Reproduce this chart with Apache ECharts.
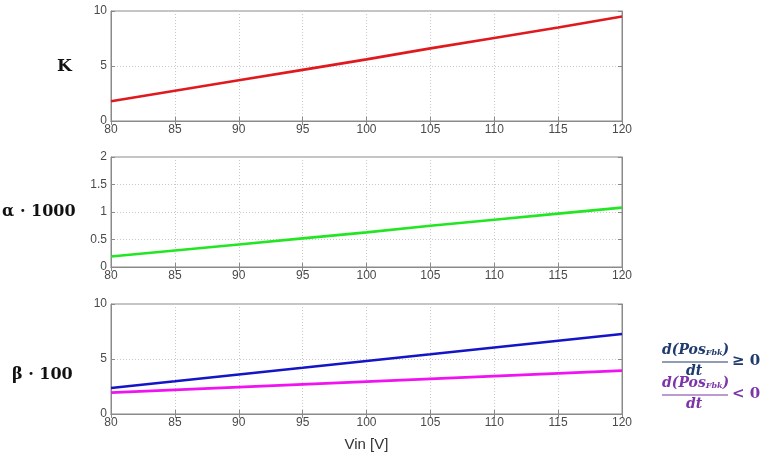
<!DOCTYPE html>
<html>
<head>
<meta charset="utf-8">
<script src="https://cdn.jsdelivr.net/npm/echarts@6/dist/echarts.min.js"></script>
<style>html,body{margin:0;padding:0;background:#fff}#c{width:762px;height:455px}</style>
</head>
<body>
<div id="c"></div>
<script>
var vin = [80, 85, 90, 95, 100, 105, 110, 115, 120];
var kValues = [1.8, 2.75, 3.7, 4.65, 5.6, 6.6, 7.55, 8.5, 9.5];
var alphaValues = [0.19, 0.30, 0.41, 0.52, 0.63, 0.75, 0.86, 0.97, 1.08];
var betaPosValues = [2.36, 2.97, 3.59, 4.2, 4.82, 5.43, 6.05, 6.66, 7.27];
var betaNegValues = [1.94, 2.19, 2.44, 2.69, 2.94, 3.19, 3.44, 3.69, 3.94];
var yMaxes = [10, 2, 10];
var yIntervals = [5, 0.5, 5];

function pairs(v){ return vin.map(function(x,i){return [x, v[i]];}); }

var tops = [11, 157, 304];
var grids = tops.map(function(t){return {left:111,width:511,top:t,height:110,show:true,borderColor:'#8a8a8a',borderWidth:1,backgroundColor:'#fff'};});
var xAxes = [], yAxes = [];
for (var g=0; g<3; g++){
  xAxes.push({type:'value',gridIndex:g,min:80,max:120,interval:5,position:'bottom',
    axisLine:{show:true,lineStyle:{color:'#8a8a8a'}},
    axisTick:{show:true,inside:true,length:4,lineStyle:{color:'#8a8a8a'}},
    axisLabel:{color:'#4a4a4a',fontFamily:'Arial',fontSize:12,margin:3},
    splitLine:{show:true,lineStyle:{color:'#c8c8c8',type:[1,2],width:1}}});
  xAxes.push({type:'value',gridIndex:g,min:80,max:120,interval:5,position:'top',
    axisLine:{show:true,lineStyle:{color:'#8a8a8a'}},
    axisTick:{show:true,inside:true,length:4,lineStyle:{color:'#8a8a8a'}},
    axisLabel:{show:false},splitLine:{show:false}});
  yAxes.push({type:'value',gridIndex:g,min:0,max:yMaxes[g],interval:yIntervals[g],position:'left',
    axisLine:{show:true,lineStyle:{color:'#8a8a8a'}},
    axisTick:{show:true,inside:true,length:4,lineStyle:{color:'#8a8a8a'}},
    axisLabel:{color:'#4a4a4a',fontFamily:'Arial',fontSize:12,margin:4},
    splitLine:{show:true,lineStyle:{color:'#c8c8c8',type:[1,2],width:1}}});
  yAxes.push({type:'value',gridIndex:g,min:0,max:yMaxes[g],interval:yIntervals[g],position:'right',
    axisLine:{show:true,lineStyle:{color:'#8a8a8a'}},
    axisTick:{show:true,inside:true,length:4,lineStyle:{color:'#8a8a8a'}},
    axisLabel:{show:false},splitLine:{show:false}});
}
xAxes[4].name = 'Vin [V]';
xAxes[4].nameLocation = 'middle';
xAxes[4].nameGap = 23;
xAxes[4].nameTextStyle = {color:'#333',fontFamily:'Arial',fontSize:15};

function line(data, xi, yi, color){
  return {type:'line',xAxisIndex:xi,yAxisIndex:yi,data:pairs(data),showSymbol:false,symbol:'none',
    lineStyle:{color:color,width:2.6},animation:false,silent:true};
}

var serif = '"DejaVu Serif","Liberation Serif",serif';
var navy = '#1f3a6e', purple = '#7b35a8';
function frac(y, color, rel){
  return [
    {type:'text',left:662,top:y-10,style:{text:'{a|d(Pos}{s|Fbk}{a|)}',fill:color,rich:{a:{fontFamily:serif,fontStyle:'italic',fontWeight:'bold',fontSize:14,fill:color},s:{fontFamily:serif,fontStyle:'italic',fontWeight:'bold',fontSize:8,fill:color,verticalAlign:'bottom',padding:[6,0,0,0]}}}},
    {type:'line',shape:{x1:662,y1:y+9,x2:728,y2:y+9},style:{stroke:color,lineWidth:1}},
    {type:'text',left:686,top:y+11,style:{text:'dt',fill:color,fontFamily:serif,fontStyle:'italic',fontWeight:'bold',fontSize:14}},
    {type:'text',left:732,top:y+1,style:{text:rel,fill:color,fontFamily:serif,fontWeight:'bold',fontSize:15}}
  ];
}

var graphics = [
  {type:'text',left:57,top:58,style:{text:'K',fill:'#111',fontFamily:serif,fontWeight:'bold',fontSize:17}},
  {type:'text',left:2,top:204,style:{text:'α · 1000',fill:'#111',fontFamily:serif,fontWeight:'bold',fontSize:16}},
  {type:'text',left:12,top:367,style:{text:'β · 100',fill:'#111',fontFamily:serif,fontWeight:'bold',fontSize:16}}
].concat(frac(353, navy, '≥ 0')).concat(frac(386, purple, '< 0'));

var chart = echarts.init(document.getElementById('c'));
chart.setOption({
  animation:false,
  backgroundColor:'#fff',
  grid:grids,
  xAxis:xAxes,
  yAxis:yAxes,
  series:[
    line(kValues,0,0,'#e0191e'),
    line(alphaValues,2,2,'#22e622'),
    line(betaPosValues,4,4,'#1515c8'),
    line(betaNegValues,4,4,'#f012f0')
  ],
  graphic:graphics
});
</script>
</body>
</html>
